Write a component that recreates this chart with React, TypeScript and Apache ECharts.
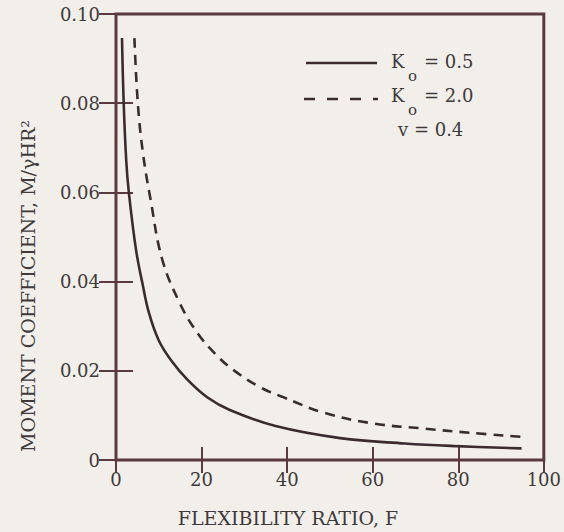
import React, { useEffect, useRef } from "react";
import * as echarts from "echarts";

// Flexibility ratio F and moment coefficient M/γHR²
const k05F = [1.4, 1.8, 2.4, 3.0, 4.7, 6.2, 7.7, 10, 13, 16.8, 21.4, 26.6, 37.3, 52.4, 67.5, 79.7, 94.8];
const k05M = [0.0946, 0.08, 0.067, 0.06, 0.047, 0.0395, 0.033, 0.0268, 0.0222, 0.0179, 0.014, 0.0112, 0.0076, 0.0049, 0.0037, 0.0031, 0.0026];

const k20F = [4.3, 5.1, 6.3, 8.1, 10.8, 14.9, 19.1, 23.6, 27.4, 33.5, 38.8, 48.6, 60, 71.4, 82.7, 94.8];
const k20M = [0.0946, 0.08, 0.0688, 0.0583, 0.045, 0.0352, 0.0284, 0.0234, 0.0202, 0.0164, 0.0142, 0.0106, 0.0082, 0.0071, 0.0061, 0.0052];

const xTicks = [0, 20, 40, 60, 80, 100];
const yTicks = [0, 0.02, 0.04, 0.06, 0.08, 0.1];

const legendLabels = ["= 0.5", "= 2.0"];
const poissonLabel = "v = 0.4";
const xTitle = "FLEXIBILITY RATIO, F";
const yTitle = "MOMENT COEFFICIENT, M/γHR²";

const BG = "#f2efea";
const FRAME = "#5a3a3e";
const INK = "#3a2c2e";
const TEXT = "#403a3a";
const FONT = "DejaVu Serif";

export default function App() {
  const ref = useRef<HTMLDivElement>(null);
  useEffect(() => {
    if (!ref.current) return;
    const chart = echarts.init(ref.current, null, { renderer: "svg" });
    const pair = (xs: number[], ys: number[]) => xs.map((x, i) => [x, ys[i]]);
    const xStep = xTicks[1] - xTicks[0];
    const yStep = yTicks[1] - yTicks[0];
    const baseX = {
      type: "value" as const,
      min: xTicks[0],
      max: xTicks[xTicks.length - 1],
      interval: xStep,
      axisLine: { show: false },
      splitLine: { show: false },
      axisTick: { inside: true, length: 13, lineStyle: { color: FRAME, width: 2 } },
    };
    const baseY = {
      type: "value" as const,
      min: yTicks[0],
      max: yTicks[yTicks.length - 1],
      interval: yStep,
      axisLine: { show: false },
      splitLine: { show: false },
      axisTick: { inside: true, length: 17, lineStyle: { color: FRAME, width: 2 } },
    };
    chart.setOption({
      animation: false,
      backgroundColor: BG,
      grid: {
        left: 116,
        right: 9,
        top: 14,
        bottom: 72,
        show: true,
        borderWidth: 3,
        borderColor: FRAME,
        backgroundColor: "transparent",
      },
      xAxis: [
        {
          ...baseX,
          position: "bottom",
          axisLabel: {
            margin: 10,
            color: TEXT,
            fontFamily: FONT,
            fontSize: 18,
            formatter: (v: number) => String(v),
          },
        },
        { ...baseX, position: "top", axisLabel: { show: false } },
      ],
      yAxis: [
        {
          ...baseY,
          position: "left",
          axisLabel: {
            margin: 16,
            color: TEXT,
            fontFamily: FONT,
            fontSize: 18,
            formatter: (v: number) => (v === 0 ? "0" : v.toFixed(2)),
          },
        },
        { ...baseY, position: "right", axisLabel: { show: false } },
      ],
      series: [
        {
          name: "Ko = 0.5",
          type: "line",
          data: pair(k05F, k05M),
          showSymbol: false,
          smooth: 0.4,
          lineStyle: { color: INK, width: 2.6 },
        },
        {
          name: "Ko = 2.0",
          type: "line",
          data: pair(k20F, k20M),
          showSymbol: false,
          smooth: 0.4,
          lineStyle: { color: INK, width: 2.6, type: [10, 7] },
        },
      ],
      graphic: [
        {
          type: "line",
          shape: { x1: 306, y1: 63, x2: 377, y2: 63 },
          style: { stroke: INK, lineWidth: 2.4 },
        },
        {
          type: "line",
          shape: { x1: 304, y1: 99, x2: 378, y2: 99 },
          style: { stroke: INK, lineWidth: 2.6, lineDash: [11, 12] },
        },
        { type: "text", x: 391, y: 61, style: { text: "K", fontFamily: FONT, fontSize: 18, fill: TEXT, align: "left", verticalAlign: "middle" } },
        { type: "text", x: 408, y: 76, style: { text: "o", fontFamily: FONT, fontSize: 15, fill: TEXT, align: "left", verticalAlign: "middle" } },
        { type: "text", x: 424, y: 61, style: { text: legendLabels[0], fontFamily: FONT, fontSize: 18, fill: TEXT, align: "left", verticalAlign: "middle" } },
        { type: "text", x: 391, y: 95, style: { text: "K", fontFamily: FONT, fontSize: 18, fill: TEXT, align: "left", verticalAlign: "middle" } },
        { type: "text", x: 408, y: 110, style: { text: "o", fontFamily: FONT, fontSize: 15, fill: TEXT, align: "left", verticalAlign: "middle" } },
        { type: "text", x: 424, y: 95, style: { text: legendLabels[1], fontFamily: FONT, fontSize: 18, fill: TEXT, align: "left", verticalAlign: "middle" } },
        { type: "text", x: 398, y: 129, style: { text: poissonLabel, fontFamily: FONT, fontSize: 18, fill: TEXT, align: "left", verticalAlign: "middle" } },
        { type: "text", x: 288, y: 518, style: { text: xTitle, fontFamily: FONT, fontSize: 19, fill: TEXT, align: "center", verticalAlign: "middle" } },
        {
          type: "text",
          x: 28,
          y: 286,
          rotation: Math.PI / 2,
          style: { text: yTitle, fontFamily: FONT, fontSize: 19, fill: TEXT, align: "center", verticalAlign: "middle" },
        },
      ],
    });
    return () => chart.dispose();
  }, []);
  return (
    <div
      ref={ref}
      style={{ position: "fixed", left: 0, top: 0, width: 564, height: 532, background: BG }}
    />
  );
}
